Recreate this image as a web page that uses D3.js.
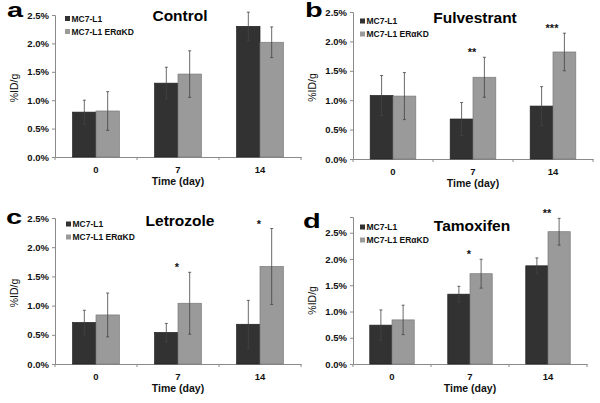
<!DOCTYPE html>
<html>
<head>
<meta charset="utf-8">
<script src="https://cdn.jsdelivr.net/npm/d3@7"></script>
<style>
  html, body { margin: 0; padding: 0; background: #fff; }
  svg { display: block; font-family: "Liberation Sans", Arial, sans-serif; }
</style>
</head>
<body>
<svg id="chart" width="600" height="403"></svg>
<script>
// ---------- data ----------
const categories = ["0", "7", "14"];
const seriesNames = ["MC7-L1", "MC7-L1 ERαKD"];
const panelLetters = ["a", "b", "c", "d"];
const panelTitles = ["Control", "Fulvestrant", "Letrozole", "Tamoxifen"];
const yTickValues = [0, 0.5, 1.0, 1.5, 2.0, 2.5];
const yMaxValues = [2.5, 2.5, 2.5, 2.8];
const xAxisTitle = "Time (day)";
const yAxisTitle = "%ID/g";

const controlMC7 = [0.79, 1.30, 2.30];
const controlMC7Err = [0.21, 0.28, 0.25];
const controlKD = [0.81, 1.46, 2.02];
const controlKDErr = [0.34, 0.41, 0.27];
const controlStars = ["", "", ""];

const fulvestrantMC7 = [1.08, 0.68, 0.90];
const fulvestrantMC7Err = [0.34, 0.28, 0.33];
const fulvestrantKD = [1.07, 1.39, 1.82];
const fulvestrantKDErr = [0.40, 0.34, 0.32];
const fulvestrantStars = ["", "**", "***"];

const letrozoleMC7 = [0.71, 0.54, 0.68];
const letrozoleMC7Err = [0.21, 0.155, 0.41];
const letrozoleKD = [0.84, 1.04, 1.67];
const letrozoleKDErr = [0.375, 0.53, 0.65];
const letrozoleStars = ["", "*", "*"];

const tamoxifenMC7 = [0.74, 1.33, 1.87];
const tamoxifenMC7Err = [0.29, 0.15, 0.15];
const tamoxifenKD = [0.84, 1.72, 2.52];
const tamoxifenKDErr = [0.28, 0.275, 0.255];
const tamoxifenStars = ["", "*", "**"];

const panelValues = [
  [controlMC7, controlKD], [fulvestrantMC7, fulvestrantKD],
  [letrozoleMC7, letrozoleKD], [tamoxifenMC7, tamoxifenKD]
];
const panelErrors = [
  [controlMC7Err, controlKDErr], [fulvestrantMC7Err, fulvestrantKDErr],
  [letrozoleMC7Err, letrozoleKDErr], [tamoxifenMC7Err, tamoxifenKDErr]
];
const panelStars = [controlStars, fulvestrantStars, letrozoleStars, tamoxifenStars];

// ---------- layout (pixel positions / styles) ----------
const layouts = [
  { x0: 55,  x1: 301, yb: 157, yt: 15,   titleY: 21,  legX: 65,  legY: 18.5, letX: 7,   letY: 17 },
  { x0: 353, x1: 593, yb: 159, yt: 12,   titleY: 23,  legX: 360, legY: 21,   letX: 305, letY: 17 },
  { x0: 55,  x1: 301, yb: 364, yt: 218,  titleY: 226, legX: 66,  legY: 224,  letX: 6,   letY: 224 },
  { x0: 353, x1: 587, yb: 364, yt: 217,  titleY: 231, legX: 360, legY: 227,  letX: 303, letY: 228 }
];
const barColors = ["#323232", "#9a9a9a"];
const barStrokes = ["#1e1e1e", "#7a7a7a"];
const axisColor = "#8a8a8a";
const textColor = "#111";

const svg = d3.select("#chart");

panelTitles.forEach((title, p) => {
  const L = layouts[p];
  const g = svg.append("g");

  const x = d3.scaleBand().domain(categories).range([L.x0, L.x1])
    .paddingInner(0.43).paddingOuter(0.215);
  const xs = d3.scaleBand().domain(seriesNames).range([0, x.bandwidth()]);
  const y = d3.scaleLinear().domain([0, yMaxValues[p]]).range([L.yb, L.yt]);

  // y axis
  const yAxis = d3.axisLeft(y).tickValues(yTickValues)
    .tickFormat(d => d3.format(".1f")(d) + "%").tickSize(3).tickPadding(3);
  const ya = g.append("g").attr("transform", `translate(${L.x0},0)`).call(yAxis);
  ya.select(".domain").attr("stroke", axisColor);
  ya.selectAll(".tick line").attr("stroke", axisColor);
  ya.selectAll(".tick text").attr("fill", textColor)
    .style("font-size", "9.5px").style("font-weight", "bold");

  // x axis
  const xAxis = d3.axisBottom(x).tickSize(0).tickPadding(9);
  const xa = g.append("g").attr("transform", `translate(0,${L.yb})`).call(xAxis);
  xa.select(".domain").attr("stroke", axisColor);
  xa.selectAll(".tick text").attr("fill", textColor)
    .style("font-size", "9.5px").style("font-weight", "bold");
  // boundary tick marks between categories
  const bounds = d3.range(categories.length + 1).map(i => x.range()[0] + i * x.step());
  g.append("g").selectAll("line").data(bounds).join("line")
    .attr("x1", d => d).attr("x2", d => d)
    .attr("y1", L.yb).attr("y2", L.yb + 3)
    .attr("stroke", axisColor);

  // bars
  seriesNames.forEach((s, si) => {
    const vals = panelValues[p][si];
    const errs = panelErrors[p][si];
    const bg = g.append("g");
    bg.selectAll("rect").data(categories).join("rect")
      .attr("x", (c) => x(c) + xs(s))
      .attr("width", xs.bandwidth())
      .attr("y", (c, i) => y(vals[i]))
      .attr("height", (c, i) => y(0) - y(vals[i]))
      .attr("fill", barColors[si])
      .attr("stroke", barStrokes[si])
      .attr("stroke-width", 0.7);
    // error bars
    const eg = g.append("g").attr("stroke", "#444").attr("stroke-width", 0.8);
    categories.forEach((c, i) => {
      const cx = x(c) + xs(s) + xs.bandwidth() / 2;
      const top = y(vals[i] + errs[i]);
      const bot = y(vals[i] - errs[i]);
      eg.append("line").attr("x1", cx).attr("x2", cx).attr("y1", top).attr("y2", bot);
      eg.append("line").attr("x1", cx - 1.5).attr("x2", cx + 1.5).attr("y1", top).attr("y2", top);
      eg.append("line").attr("x1", cx - 1.5).attr("x2", cx + 1.5).attr("y1", bot).attr("y2", bot);
    });
  });

  // significance stars
  categories.forEach((c, i) => {
    const st = panelStars[p][i];
    if (!st) return;
    const topVal = d3.max(seriesNames.map((s, si) => panelValues[p][si][i] + panelErrors[p][si][i]));
    g.append("text")
      .attr("x", x(c) + x.bandwidth() / 2 - 1)
      .attr("y", y(topVal) - 1)
      .attr("text-anchor", "middle")
      .attr("fill", textColor)
      .style("font-size", "11px").style("font-weight", "bold")
      .text(st);
  });

  // title
  g.append("text")
    .attr("x", (L.x0 + L.x1) / 2 + 2)
    .attr("y", L.titleY)
    .attr("text-anchor", "middle")
    .attr("fill", "#000")
    .style("font-size", "15.5px").style("font-weight", "bold")
    .text(title);

  // panel letter
  g.append("text")
    .attr("transform", `translate(${L.letX},${L.letY}) scale(1.45,1)`)
    .attr("fill", "#000")
    .style("font-size", "20px").style("font-weight", "bold")
    .text(panelLetters[p]);

  // axis titles
  g.append("text")
    .attr("x", (L.x0 + L.x1) / 2)
    .attr("y", L.yb + 28)
    .attr("text-anchor", "middle")
    .attr("fill", textColor)
    .style("font-size", "10.5px").style("font-weight", "bold")
    .text(xAxisTitle);
  g.append("text")
    .attr("transform", `translate(${L.x0 - 37},${(L.yb + y(2.5)) / 2 + 2}) rotate(-90)`)
    .attr("text-anchor", "middle")
    .attr("fill", textColor)
    .style("font-size", "10.5px")
    .text(yAxisTitle);

  // legend
  const lg = g.append("g");
  seriesNames.forEach((s, si) => {
    const ly = L.legY + si * 13;
    lg.append("rect").attr("x", L.legX).attr("y", ly - 2.5).attr("width", 5).attr("height", 5)
      .attr("fill", barColors[si]);
    lg.append("text").attr("x", L.legX + 6.5).attr("y", ly + 3)
      .attr("fill", textColor)
      .style("font-size", "8.5px").style("font-weight", "bold")
      .text(s);
  });
});
</script>
</body>
</html>
